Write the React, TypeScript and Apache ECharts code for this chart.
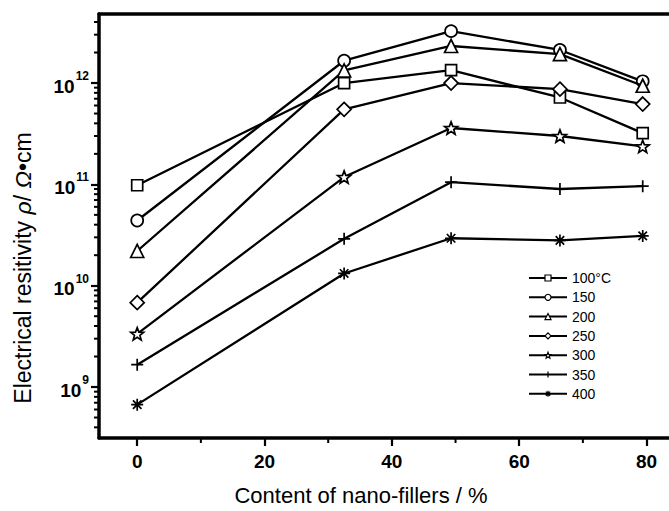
import React, { useEffect, useRef } from 'react';
import * as echarts from 'echarts';

// nano-filler content (%) – x positions of the measured points
const contents = [0, 32.5, 49.3, 66.4, 79.4];
// legend labels (temperature)
const temperatures = ['100°C', '150', '200', '250', '300', '350', '400'];
// electrical resistivity (Ω·cm) per temperature
const rho100 = [9.8e10, 1.0e12, 1.34e12, 7.2e11, 3.2e11];
const rho150 = [4.4e10, 1.66e12, 3.25e12, 2.12e12, 1.04e12];
const rho200 = [2.2e10, 1.33e12, 2.32e12, 1.93e12, 9.4e11];
const rho250 = [6.8e9, 5.5e11, 1.0e12, 8.7e11, 6.2e11];
const rho300 = [3.35e9, 1.18e11, 3.6e11, 3.0e11, 2.37e11];
const rho350 = [1.66e9, 2.9e10, 1.05e11, 9.0e10, 9.6e10];
const rho400 = [6.7e8, 1.32e10, 2.94e10, 2.8e10, 3.1e10];
const seriesValues = [rho100, rho150, rho200, rho250, rho300, rho350, rho400];

// axis ranges
const X_MIN = -6;
const X_MAX = 84;
const Y_MIN = 3.14e8;
const Y_MAX = 4.8e12;
// minor tick positions
const xMinorTicks = [10, 30, 50, 70];
const logMantissas = [2, 3, 4, 5, 6, 7, 8, 9];
const logDecades = [1e8, 1e9, 1e10, 1e11, 1e12];
const yMinorTicks: number[] = [];
logDecades.forEach((d) => logMantissas.forEach((m) => {
  const v = m * d;
  if (v > Y_MIN && v < Y_MAX) yMinorTicks.push(v);
}));

const STAR =
  'path://M0 -10 L2.469 -3.398 L9.511 -3.09 L3.995 1.298 L5.878 8.09 L0 4.2 L-5.878 8.09 L-3.995 1.298 L-9.511 -3.09 L-2.469 -3.398 Z';
const PLUS = 'path://M0 5 L10 5 M5 0 L5 10';
const ASTER = 'path://M5 0 L5 10 M1.46 1.46 L8.54 8.54 M1.46 8.54 L8.54 1.46 M0 5 L10 5';
const symbols = ['rect', 'circle', 'triangle', 'diamond', STAR, PLUS, ASTER];
const symbolSizes = [11, 12, 13, 14, 13, 12, 12];

const FONT = '"Liberation Sans", Arial, Helvetica, sans-serif';

export default function App() {
  const ref = useRef<HTMLDivElement>(null);
  useEffect(() => {
    if (!ref.current) return;
    const chart = echarts.init(ref.current, undefined, { renderer: 'svg' });
    const series: any[] = seriesValues.map((vals, i) => ({
      name: temperatures[i],
      type: 'line',
      data: contents.map((c, j) => [c, vals[j]]),
      symbol: symbols[i],
      symbolSize: symbolSizes[i],
      symbolKeepAspect: true,
      showAllSymbol: true,
      lineStyle: { color: '#000', width: 2.3 },
      itemStyle: { color: '#fff', borderColor: '#000', borderWidth: 1.7 },
      emphasis: { disabled: true },
      z: 3 + i,
    }));
    series.push({
      type: 'custom',
      name: 'yMinor',
      silent: true,
      z: 10,
      data: yMinorTicks.map((v) => [X_MIN, v]),
      renderItem: (_p: any, api: any) => {
        const p = api.coord([api.value(0), api.value(1)]);
        return {
          type: 'line',
          shape: { x1: p[0] - 5, y1: p[1], x2: p[0], y2: p[1] },
          style: { stroke: '#000', lineWidth: 2 },
        };
      },
    });
    series.push({
      type: 'custom',
      name: 'xMinor',
      silent: true,
      z: 10,
      data: xMinorTicks.map((v) => [v, Y_MIN]),
      renderItem: (_p: any, api: any) => {
        const p = api.coord([api.value(0), api.value(1)]);
        return {
          type: 'line',
          shape: { x1: p[0], y1: p[1], x2: p[0], y2: p[1] + 5 },
          style: { stroke: '#000', lineWidth: 2 },
        };
      },
    });
    const option: any = {
      animation: false,
      backgroundColor: '#fff',
      textStyle: { fontFamily: FONT },
      grid: { left: 99, top: 14, right: -3, bottom: 73, containLabel: false, outerBoundsMode: 'none' },
      legend: {
        orient: 'vertical',
        left: 528,
        top: 271,
        padding: 0,
        itemWidth: 38,
        itemHeight: 7.5,
        itemGap: 5.3,
        data: temperatures,
        itemStyle: { borderWidth: 1.2 },
        textStyle: { fontFamily: FONT, fontSize: 14, color: '#000' },
        selectedMode: false,
      },
      xAxis: [
        {
          type: 'value',
          min: X_MIN,
          max: X_MAX,
          splitNumber: 5,
          axisLine: { show: true, onZero: false, lineStyle: { color: '#000', width: 3.5 } },
          axisTick: { show: true, inside: false, length: 8, lineStyle: { color: '#000', width: 2.2 } },
          minorTick: { show: false },
          splitLine: { show: false },
          axisLabel: {
            showMinLabel: false,
            showMaxLabel: false,
            margin: 14,
            color: '#000',
            fontFamily: FONT,
            fontSize: 19,
            fontWeight: 'bold',
          },
        },
        {
          type: 'value',
          position: 'top',
          min: X_MIN,
          max: X_MAX,
          axisLine: { show: true, lineStyle: { color: '#000', width: 3.5 } },
          axisTick: { show: false },
          axisLabel: { show: false },
          splitLine: { show: false },
        },
      ],
      yAxis: {
        type: 'log',
        logBase: 10,
        min: Y_MIN,
        max: Y_MAX,
        axisLine: { show: true, onZero: false, lineStyle: { color: '#000', width: 3.5 } },
        axisTick: { show: true, inside: false, length: 8, lineStyle: { color: '#000', width: 2.2 } },
        minorTick: { show: false },
        splitLine: { show: false },
        axisLabel: {
          showMinLabel: false,
          showMaxLabel: false,
          margin: 10,
          color: '#000',
          formatter: (v: number) => '{b|10}{s|' + Math.round(Math.log10(v)) + '}',
          rich: {
            b: { fontFamily: FONT, fontSize: 19, fontWeight: 'bold', color: '#000', padding: [6, 0, 0, 0] },
            s: { fontFamily: FONT, fontSize: 12, fontWeight: 'bold', color: '#000', padding: [0, 0, 14, 1] },
          },
        },
      },
      graphic: [
        {
          type: 'text',
          x: 361,
          y: 495,
          style: {
            text: 'Content of nano-fillers / %',
            fontFamily: FONT,
            fontSize: 22,
            fill: '#000',
            textAlign: 'center',
            textVerticalAlign: 'middle',
          },
        },
        {
          type: 'text',
          x: 23,
          y: 268,
          rotation: Math.PI / 2,
          style: {
            text: '{n|Electrical resitivity }{i|ρ}{n|/ }{i|Ω}{n|•cm}',
            rich: {
              n: { fontFamily: FONT, fontSize: 23, fill: '#000' },
              i: { fontFamily: FONT, fontSize: 23, fontStyle: 'italic', fill: '#000' },
            },
            textAlign: 'center',
            textVerticalAlign: 'middle',
          },
        },
      ],
      series,
    };
    chart.setOption(option);
    return () => chart.dispose();
  }, []);
  return <div ref={ref} style={{ position: 'fixed', left: 0, top: 0, width: 669, height: 511 }} />;
}
